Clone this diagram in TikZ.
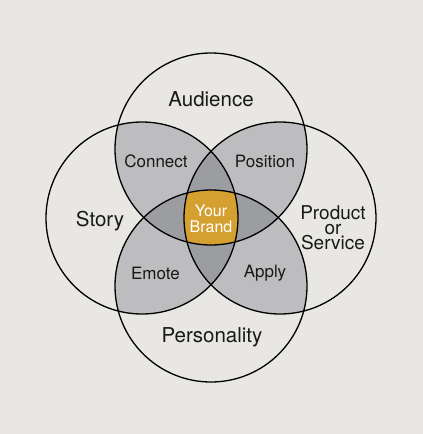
\documentclass[tikz,border=0pt]{standalone}
\usepackage{fontspec}
\setmainfont{TeX Gyre Heros}
\definecolor{bgc}{HTML}{E8E7E3}
\definecolor{pairc}{HTML}{BDBDBF}
\definecolor{triplec}{HTML}{9B9DA0}
\definecolor{goldc}{HTML}{D4A030}
\begin{document}
\begin{tikzpicture}[x=1pt,y=-1pt,
  ring/.style={draw=black,line width=1.3pt},
  bigtxt/.style={font=\fontsize{20.5}{20}\selectfont,text=black!90},
  midtxt/.style={font=\fontsize{17}{17}\selectfont,text=black!90},
  brandtxt/.style={font=\fontsize{16}{16.5}\selectfont,text=white,align=center}]
\useasboundingbox (0,0) rectangle (423,434);
\fill[bgc] (0,0) rectangle (423,434);
\def\R{96pt}
\coordinate (T) at (211,149);
\coordinate (B) at (211,286);
\coordinate (L) at (142,218);
\coordinate (Rr) at (280,218);
% pairs
\foreach \a/\b in {T/L,T/Rr,B/L,B/Rr,T/B,L/Rr}{
  \begin{scope}\clip (\a) circle[radius=\R]; \fill[pairc] (\b) circle[radius=\R];\end{scope}}
% triples
\foreach \a/\b/\c in {T/L/Rr,B/L/Rr,T/B/L,T/B/Rr}{
  \begin{scope}\clip (\a) circle[radius=\R]; \clip (\b) circle[radius=\R]; \fill[triplec] (\c) circle[radius=\R];\end{scope}}
% quad
\begin{scope}\clip (T) circle[radius=\R]; \clip (B) circle[radius=\R]; \clip (L) circle[radius=\R]; \fill[goldc] (Rr) circle[radius=\R];\end{scope}
\foreach \c in {T,B,L,Rr}{\draw[ring] (\c) circle[radius=\R];}
\node[bigtxt] (aud) at (211,99) {Audience};
\node[bigtxt] (sto) at (100,221) {Story};
\node[bigtxt] (per) at (212,337) {Personality};
\node[bigtxt,align=center,font=\fontsize{19}{15}\selectfont] (prod) at (333,228) {Product\\or\\Service};
\node[midtxt] (con) at (156,161) {Connect};
\node[midtxt] (pos) at (265,161) {Position};
\node[midtxt] (emo) at (155.5,273) {Emote};
\node[midtxt] (app) at (265,273) {Apply};
\node[brandtxt] (brand) at (211,219) {Your\\Brand};
\end{tikzpicture}
\end{document}
